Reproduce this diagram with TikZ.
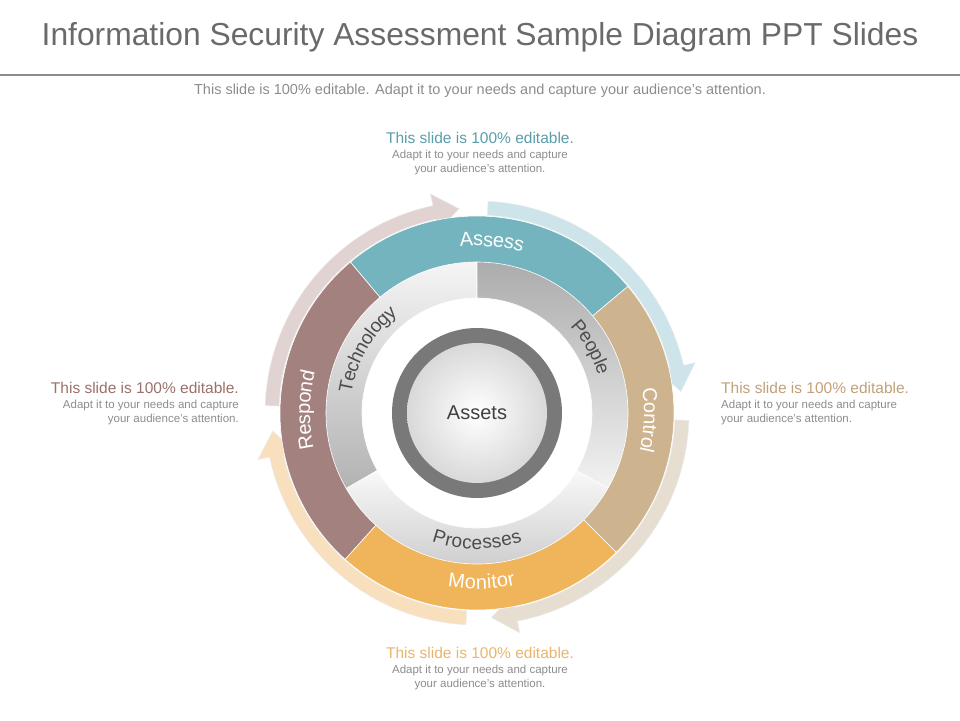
\documentclass[tikz,border=0pt]{standalone}
\usepackage{fontspec}
\setmainfont{Liberation Sans}
\usetikzlibrary{decorations.text}
\definecolor{titlegray}{HTML}{6A6A6A}
\definecolor{subgray}{HTML}{8C8C8C}
\definecolor{cassess}{HTML}{74B4BE}
\definecolor{crespond}{HTML}{A3817F}
\definecolor{ccontrol}{HTML}{CDB38E}
\definecolor{cmonitor}{HTML}{F0B55A}
\definecolor{passess}{HTML}{CDE5EA}
\definecolor{prespond}{HTML}{E2D3D3}
\definecolor{pcontrol}{HTML}{E7DED2}
\definecolor{pmonitor}{HTML}{F8E0BF}
\definecolor{tassess}{HTML}{5A9DAA}
\definecolor{trespond}{HTML}{9A6F6C}
\definecolor{tcontrol}{HTML}{C2A07A}
\definecolor{tmonitor}{HTML}{EAB56A}
\tikzset{
  seg/.style={draw=white,line width=0.6pt},
  blurb/.style={font=\fontsize{11.5}{14}\selectfont,text=subgray,inner sep=1pt},
  bhead/.style={font=\fontsize{15.5}{17}\selectfont,inner sep=1pt},
  ringlabel/.style={decorate,decoration={text along path,text={|\color{white}\fontsize{20}{20}\selectfont|#1},text align=center,raise=-6pt}},
  glabel/.style={decorate,decoration={text along path,text={|\color{black!70}\fontsize{19}{19}\selectfont|#1},text align=center,raise=-6pt}},
}
\newcommand\cycarrow[4]{% color, start, end, tip
  \fill[#1,draw=white!85!gray,line width=0.5pt] (#2:212pt) arc[start angle=#2,end angle=#3,radius=212pt]
    -- (#3:224pt) -- (#4:205pt) -- (#3:186pt) -- (#3:198pt)
    arc[start angle=#3,end angle=#2,radius=198pt] -- cycle;}
\newcommand\annseg[5]{% style, start, end, rin, rout
  \path[#1] (#2:#5) arc[start angle=#2,end angle=#3,radius=#5] -- (#3:#4)
    arc[start angle=#3,end angle=#2,radius=#4] -- cycle;}
\begin{document}
\begin{tikzpicture}[x=1pt,y=1pt]
\useasboundingbox (-477,-307) rectangle (483,413);
% title
\node[font=\fontsize{31.8}{34}\selectfont,text=titlegray] (title) at (3,376) {Information Security Assessment Sample Diagram PPT Slides};
\draw[line width=2.5pt,subgray] (-477,338) -- (483,338);
\node[font=\fontsize{14.5}{16}\selectfont,text=subgray] (sub) at (3,322) {This slide is 100\% editable. Adapt it to your needs and capture your audience's attention.};
% arrows
\cycarrow{prespond}{178}{102}{95}
\cycarrow{passess}{87}{13}{6}
\cycarrow{pcontrol}{-2}{-79}{-86}
\cycarrow{pmonitor}{-93}{-168}{-175}
% colored ring
\annseg{seg,fill=cassess}{40}{130}{150pt}{197pt}
\annseg{seg,fill=crespond}{130}{228}{150pt}{197pt}
\annseg{seg,fill=cmonitor}{228}{315}{150pt}{197pt}
\annseg{seg,fill=ccontrol}{315}{400}{150pt}{197pt}
% grey ring
\annseg{seg,top color=white!92!gray,bottom color=gray!60}{90}{210}{115pt}{151pt}
\annseg{seg,top color=gray!65,bottom color=white!90!gray}{-30}{90}{115pt}{151pt}
\annseg{seg,top color=white!95!gray,bottom color=gray!45}{210}{330}{115pt}{151pt}
\fill[white] (0,0) circle[radius=114pt];
\fill[gray!95!black] (0,0) circle[radius=85pt];
\shade[inner color=white,outer color=gray!30] (0,0) circle[radius=70pt];
\node[font=\fontsize{20}{20}\selectfont,text=black!75] (assets) at (0,0) {Assets};
% ring labels
\path[ringlabel=Assess] (130:173pt) arc[start angle=130,end angle=40,radius=173pt];
\path[ringlabel=Control] (40:173pt) arc[start angle=40,end angle=-45,radius=173pt];
\path[ringlabel=Monitor] (228:170pt) arc[start angle=228,end angle=315,radius=170pt];
\path[ringlabel=Respond] (228:173pt) arc[start angle=228,end angle=130,radius=173pt];
\path[glabel=Technology] (210:133pt) arc[start angle=210,end angle=90,radius=133pt];
\path[glabel=People] (90:133pt) arc[start angle=90,end angle=-30,radius=133pt];
\path[glabel=Processes] (210:130pt) arc[start angle=210,end angle=330,radius=130pt];
% blurbs
\node[bhead,text=tassess] (bt) at (3,275) {This slide is 100\% editable.};
\node[blurb,align=center,anchor=north] (btb) at ([yshift=-4pt]bt.south) {Adapt it to your needs and capture\\your audience's attention.};
\node[bhead,anchor=east,text=trespond] (bl) at (-237,25) {This slide is 100\% editable.};
\node[blurb,align=right,anchor=north east] (blb) at ([yshift=-4pt]bl.south east) {Adapt it to your needs and capture\\your audience's attention.};
\node[bhead,anchor=west,text=tcontrol] (br) at (243,25) {This slide is 100\% editable.};
\node[blurb,align=left,anchor=north west] (brb) at ([yshift=-4pt]br.south west) {Adapt it to your needs and capture\\your audience's attention.};
\node[bhead,text=tmonitor] (bb) at (3,-240) {This slide is 100\% editable.};
\node[blurb,align=center,anchor=north] (bbb) at ([yshift=-4pt]bb.south) {Adapt it to your needs and capture\\your audience's attention.};
\end{tikzpicture}
\end{document}
